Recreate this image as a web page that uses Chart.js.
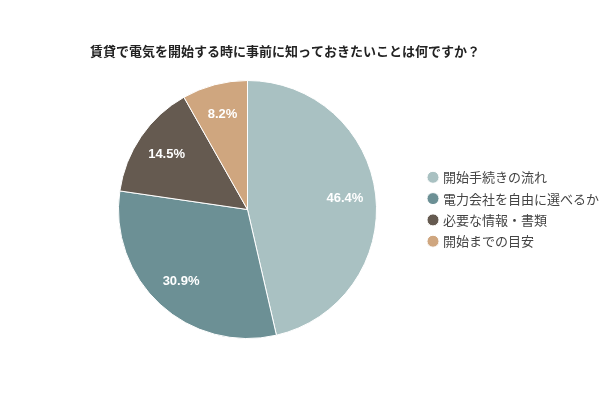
<!DOCTYPE html>
<html>
<head>
<meta charset="utf-8">
<script src="https://cdn.jsdelivr.net/npm/chart.js@4.4.0/dist/chart.umd.min.js"></script>
<style>
html,body{margin:0;padding:0;background:#fff;overflow:hidden;}
#clip{width:600px;height:400px;overflow:hidden;}
#wrap{width:610px;height:400px;position:relative;}
</style>
</head>
<body>
<div id="clip"><div id="wrap"><canvas id="c"></canvas></div></div>
<script>
const titleText = "賃貸で電気を開始する時に事前に知っておきたいことは何ですか？";
const categories = ["開始手続きの流れ", "電力会社を自由に選べるか", "必要な情報・書類", "開始までの目安"];
const values = [46.4, 30.9, 14.5, 8.2];
const colors = ["#a9c1c2", "#6c9095", "#655a50", "#cfa67f"];

const sliceLabels = {
  id: 'sliceLabels',
  afterDatasetsDraw(chart) {
    const ctx = chart.ctx;
    const meta = chart.getDatasetMeta(0);
    ctx.save();
    ctx.fillStyle = '#ffffff';
    ctx.font = 'bold 13px "Liberation Sans", Arial, sans-serif';
    ctx.textAlign = 'center';
    ctx.textBaseline = 'middle';
    meta.data.forEach((arc, i) => {
      const p = arc.getProps(['x', 'y', 'startAngle', 'endAngle', 'outerRadius'], true);
      const mid = (p.startAngle + p.endAngle) / 2;
      const r = p.outerRadius * 0.76;
      ctx.fillText(values[i].toFixed(1) + '%', p.x + Math.cos(mid) * r, p.y + Math.sin(mid) * r);
    });
    ctx.restore();
  }
};

const shiftTitle = {
  id: 'shiftTitle',
  afterLayout(chart) {
    const t = chart.titleBlock;
    if (t) { t.left += 16.2; t.right += 16.2; }
  }
};

new Chart(document.getElementById('c'), {
  type: 'pie',
  data: {
    labels: categories,
    datasets: [{
      data: values,
      backgroundColor: colors,
      borderColor: '#ffffff',
      borderWidth: 1
    }]
  },
  options: {
    responsive: true,
    maintainAspectRatio: false,
    animation: false,
    layout: { padding: { left: 73.8, right: 1, top: 28, bottom: 61 } },
    plugins: {
      title: {
        display: true,
        text: titleText,
        align: 'start',
        color: '#222',
        font: { family: '"Noto Sans CJK JP", sans-serif', size: 13, weight: 'bold' },
        padding: { top: 15.2, bottom: 21.2 }
      },
      legend: {
        position: 'right',
        title: {
          display: true,
          text: ' ',
          font: { size: 10 },
          padding: { top: 39.5, bottom: 0 }
        },
        labels: {
          usePointStyle: true,
          pointStyle: 'circle',
          boxWidth: 7,
          boxHeight: 8.5,
          padding: 8.3,
          color: '#444',
          font: { family: '"Noto Sans CJK JP", sans-serif', size: 13 }
        }
      },
      tooltip: { enabled: false }
    }
  },
  plugins: [sliceLabels, shiftTitle]
});
</script>
</body>
</html>
